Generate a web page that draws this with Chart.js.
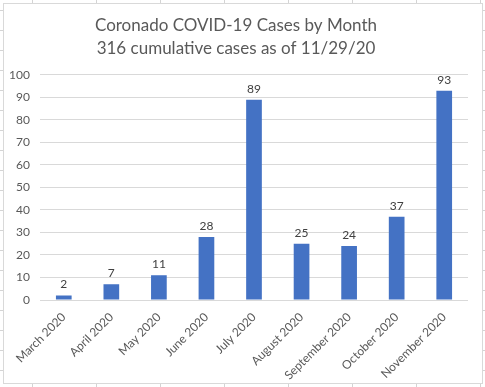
<!DOCTYPE html>
<html>
<head>
<meta charset="utf-8">
<script src="https://cdn.jsdelivr.net/npm/chart.js@4"></script>
<style>
html,body{margin:0;padding:0;width:485px;height:387px;overflow:hidden;}
body{
  background-color:#fff;
  background-image:
    linear-gradient(to right, #d4d4d4 1px, transparent 1px),
    linear-gradient(to bottom, #d4d4d4 1px, transparent 1px);
  background-size:64px 20px, 64px 20px;
  background-position:32px 0, 0 10px;
}
#box{position:absolute;left:3px;top:3px;width:478px;height:379px;border:1px solid #d9d9d9;background:#fff;}
#c{display:block;}
</style>
</head>
<body>
<div id="box"><canvas id="c" width="478" height="379"></canvas></div>
<script>
const categories = ["March 2020","April 2020","May 2020","June 2020","July 2020","August 2020","September 2020","October 2020","November 2020"];
const cases = [2,7,11,28,89,25,24,37,93];
const titleLines = ["Coronado COVID-19 Cases by Month","316 cumulative cases as of 11/29/20"];

const FONT = "Lato, Open Sans, sans-serif";
const TXT = "#595959";

const valueLabels = {
  id:'valueLabels',
  afterDatasetsDraw(chart){
    const ctx = chart.ctx;
    const meta = chart.getDatasetMeta(0);
    ctx.save();
    ctx.font = "12px " + FONT;
    ctx.fillStyle = "#404040";
    ctx.textAlign = "center";
    ctx.textBaseline = "bottom";
    meta.data.forEach((bar,i)=>{
      ctx.fillText(String(chart.data.datasets[0].data[i]), bar.x, bar.y - 5);
    });
    ctx.restore();
  }
};

new Chart(document.getElementById('c'),{
  type:'bar',
  data:{
    labels:categories,
    datasets:[{data:cases,backgroundColor:'#4472C4',borderWidth:0,barPercentage:0.33,categoryPercentage:1}]
  },
  options:{
    responsive:false,
    animation:false,
    layout:{padding:{left:0,right:14,top:0,bottom:0}},
    plugins:{
      legend:{display:false},
      tooltip:{enabled:false},
      title:{display:true,text:titleLines,color:TXT,font:{family:FONT,size:17,weight:'normal',lineHeight:1.35},padding:{top:10,bottom:15}}
    },
    scales:{
      x:{
        grid:{display:false},
        border:{display:false},
        ticks:{color:TXT,font:{family:FONT,size:12},minRotation:45,maxRotation:45,padding:2},
        afterFit(s){s.height=83;}
      },
      y:{
        min:0,max:100,
        grid:{color:'#d9d9d9',drawTicks:false},
        border:{display:false},
        ticks:{stepSize:10,color:TXT,font:{family:FONT,size:12},padding:10},
        afterFit(s){s.width=36;}
      }
    }
  },
  plugins:[valueLabels]
});
</script>
</body>
</html>
